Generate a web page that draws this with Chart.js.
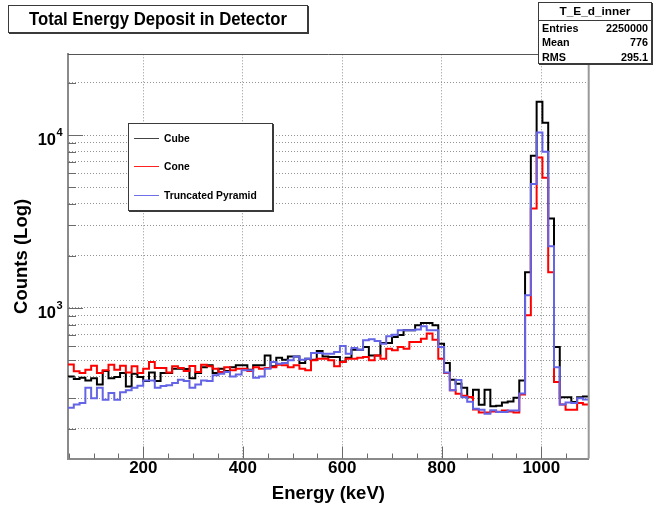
<!DOCTYPE html>
<html>
<head>
<meta charset="utf-8">
<script src="https://cdn.jsdelivr.net/npm/chart.js@4/dist/chart.umd.min.js"></script>
<style>
html,body{margin:0;padding:0;background:#fff;}
#wrap{position:relative;width:654px;height:508px;overflow:hidden;font-family:"Liberation Sans",Arial,Helvetica,sans-serif;font-weight:bold;color:#000;}
#c{position:absolute;left:0;top:0;}
.pave{position:absolute;background:#fff;border:1px solid #3a3a3a;box-shadow:1px 1px 0 #3a3a3a;box-sizing:border-box;}
#title{left:8px;top:5px;width:300px;height:28px;}
#title span{position:absolute;left:0;right:0;top:2px;text-align:center;font-size:19px;line-height:22px;white-space:nowrap;transform:scaleX(0.88);transform-origin:50% 50%;}
#stats{left:538px;top:2px;width:114px;height:62px;font-size:10.8px;}
#stats .hd{height:17px;line-height:17px;text-align:center;font-size:11.8px;border-bottom:1px solid #3a3a3a;}
#stats .row{display:flex;justify-content:space-between;padding:0 3px 0 3px;height:14.3px;line-height:14.3px;}
#legend{left:128px;top:123px;width:145px;height:88px;}
.lg{position:absolute;left:0;width:145px;height:16px;}
.lg b{position:absolute;left:5px;top:7px;width:25px;height:0;display:block;border-top-width:1.5px;border-top-style:solid;}
.lg span{position:absolute;left:35px;top:0;line-height:16px;font-size:10.3px;white-space:nowrap;}
</style>
</head>
<body>
<div id="wrap">
  <canvas id="c" width="654" height="508"></canvas>
  <div class="pave" id="title"><span id="titleText"></span></div>
  <div class="pave" id="stats"></div>
  <div class="pave" id="legend"></div>
</div>
<script>
// ---------------- data ----------------
const chartTitle = 'Total Energy Deposit in Detector';
const xTitle = 'Energy (keV)';
const yTitle = 'Counts (Log)';
const seriesNames = ['Cube', 'Cone', 'Truncated Pyramid'];
const seriesColors = ['#000000', '#ff0000', '#6464e6'];

// histogram binning (90 bins)
const binLow = 48.6;
const binWidth = 11.63;

const cube = [402,388,395,381,393,361,432,392,399,421,352,417,399,378,424,378,421,421,446,446,
  444,393,421,455,466,421,446,432,455,466,466,440,466,466,532,460,516,502,525,525,
  480,509,502,564,525,521,521,491,516,574,574,595,532,532,627,627,680,698,743,743,
  794,819,819,794,622,480,385,365,346,305,337,276,337,270,272,284,288,303,381,1609,
  7592,15600,11790,3292,595,305,305,286,305,308];
const cone = [472,430,421,440,464,421,436,470,440,464,424,460,421,446,487,450,450,424,460,450,
  432,462,426,470,460,446,426,455,436,446,446,432,455,446,450,455,470,466,455,466,
  446,436,498,509,509,498,460,487,509,509,516,521,498,532,509,582,569,595,582,636,
  636,665,711,656,509,421,334,319,311,306,259,249,249,252,251,255,252,249,316,907,
  3762,7425,5660,1609,373,277,258,258,282,277];
const pyramid = [265,277,282,346,301,346,295,322,295,326,334,346,355,381,381,346,354,357,368,385,
  378,346,361,381,378,408,417,426,402,413,436,436,395,402,446,487,476,480,498,525,
  502,509,549,549,544,544,556,603,544,587,574,650,659,644,622,686,701,743,743,743,
  750,783,743,743,595,424,335,383,305,287,261,258,245,256,250,250,255,255,320,1185,
  5203,10360,8008,2277,455,277,284,282,301,296];
const seriesValues = [cube, cone, pyramid];

// axes
const xRange = [48.6, 1095.3];
const yRange = [134.8, 29300];
const xMajorTicks = [200, 400, 600, 800, 1000];
const xMinorStep = 50;
const yDecades = [100, 1000, 10000];
const yLabelledTicks = [1000, 10000];

// stats box
const statsName = 'T_E_d_inner';
const statsRows = [['Entries', '2250000'], ['Mean', '776'], ['RMS', '295.1']];

// ---------------- html paves ----------------
document.getElementById('titleText').textContent = chartTitle;
const stats = document.getElementById('stats');
stats.innerHTML = '<div class="hd">' + statsName + '</div>' +
  statsRows.map(r => '<div class="row"><span>' + r[0] + '</span><span>' + r[1] + '</span></div>').join('');
const legend = document.getElementById('legend');
const legendTops = [7, 35, 64];
const legendLineColors = ['#444444', '#ff2020', '#6f6fe8'];
seriesNames.forEach((n, i) => {
  const d = document.createElement('div');
  d.className = 'lg';
  d.style.top = legendTops[i] + 'px';
  const ln = document.createElement('b');
  ln.style.borderTopColor = legendLineColors[i];
  const tx = document.createElement('span');
  tx.textContent = n;
  d.appendChild(ln);
  d.appendChild(tx);
  legend.appendChild(d);
});

// ---------------- chart ----------------
const edges = [];
for (let i = 0; i <= cube.length; i++) edges.push(binLow + i * binWidth);
function histPoints(vals) {
  const pts = vals.map((v, i) => ({x: edges[i], y: v}));
  pts.push({x: edges[vals.length], y: vals[vals.length - 1]});
  return pts;
}

const FONT = '"Liberation Sans", Arial, Helvetica, sans-serif';

const rootFrame = {
  id: 'rootFrame',
  afterDraw(chart) {
    const {ctx, chartArea: a, scales: {x, y}} = chart;
    ctx.save();
    ctx.strokeStyle = '#6a6a6a';
    ctx.lineWidth = 1;
    ctx.beginPath();
    x.ticks.forEach(t => {
      const px = Math.round(x.getPixelForValue(t.value)) + 0.5;
      const len = xMajorTicks.includes(t.value) ? 12 : 5;
      ctx.moveTo(px, a.bottom);
      ctx.lineTo(px, a.bottom - len);
    });
    y.ticks.forEach(t => {
      const py = Math.round(y.getPixelForValue(t.value)) + 0.5;
      const len = yLabelledTicks.includes(t.value) ? 15 : 8;
      ctx.moveTo(a.left, py);
      ctx.lineTo(a.left + len, py);
    });
    ctx.stroke();
    // top and right of frame
    ctx.beginPath();
    ctx.strokeStyle = '#555';
    ctx.lineWidth = 1;
    ctx.moveTo(a.left, Math.round(a.top) + 0.5);
    ctx.lineTo(a.right, Math.round(a.top) + 0.5);
    ctx.stroke();
    ctx.beginPath();
    ctx.strokeStyle = '#999';
    ctx.lineWidth = 2;
    ctx.moveTo(a.right, a.top);
    ctx.lineTo(a.right, a.bottom);
    ctx.stroke();
    // y labels 10^n
    ctx.fillStyle = '#000';
    yLabelledTicks.forEach(v => {
      const py = y.getPixelForValue(v);
      const e = String(Math.round(Math.log10(v)));
      ctx.font = 'bold 16.5px ' + FONT;
      ctx.textAlign = 'right';
      ctx.textBaseline = 'middle';
      ctx.fillText('10', 56, py + 5.5);
      ctx.font = 'bold 11px ' + FONT;
      ctx.textAlign = 'left';
      ctx.fillText(e, 56.5, py - 2);
    });
    ctx.restore();
  }
};

new Chart(document.getElementById('c'), {
  type: 'line',
  data: {
    datasets: seriesNames.map((n, i) => ({
      label: n,
      data: histPoints(seriesValues[i]),
      borderColor: seriesColors[i],
      backgroundColor: seriesColors[i],
      borderWidth: 2,
      pointRadius: 0,
      pointHoverRadius: 0,
      stepped: true,
      fill: false,
      tension: 0,
      order: seriesNames.length - i
    }))
  },
  options: {
    responsive: false,
    animation: false,
    devicePixelRatio: 1,
    layout: {padding: {top: 54.3, right: 65.3, left: 0, bottom: 0}},
    plugins: {legend: {display: false}, tooltip: {enabled: false}, title: {display: false}},
    scales: {
      x: {
        type: 'linear',
        min: xRange[0],
        max: xRange[1],
        afterFit: s => { s.height = 49.5; },
        afterBuildTicks: s => {
          const t = [];
          for (let v = Math.ceil(xRange[0] / xMinorStep) * xMinorStep; v <= xRange[1]; v += xMinorStep) t.push({value: v});
          s.ticks = t;
        },
        ticks: {
          autoSkip: false, maxRotation: 0, padding: 0, color: '#000',
          font: {family: FONT, size: 17, weight: 'bold'},
          callback: v => xMajorTicks.includes(v) ? String(v) : ''
        },
        grid: {
          drawTicks: false,
          color: c => (c.tick && xMajorTicks.includes(c.tick.value)) ? '#939393' : 'rgba(0,0,0,0)',
          lineWidth: 1
        },
        border: {display: true, color: '#8a8a8a', width: 2, dash: [1, 2]},
        title: {display: true, text: xTitle, color: '#000', font: {family: FONT, size: 18.5, weight: 'bold'}, padding: {top: 0, bottom: 3}}
      },
      y: {
        type: 'logarithmic',
        min: yRange[0],
        max: yRange[1],
        afterFit: s => { s.width = 68; },
        afterBuildTicks: s => {
          const t = [];
          yDecades.forEach(d => { for (let k = 1; k <= 9; k++) { const v = k * d; if (v >= yRange[0] && v <= yRange[1]) t.push({value: v}); } });
          s.ticks = t;
        },
        ticks: {display: true, autoSkip: false, callback: () => '', padding: 0},
        grid: {drawTicks: false, color: '#939393', lineWidth: 1},
        border: {display: true, color: '#8a8a8a', width: 2, dash: [1, 2]},
        title: {display: true, text: yTitle, color: '#000', font: {family: FONT, size: 18.5, weight: 'bold'}, padding: {top: 11, bottom: 0}}
      }
    }
  },
  plugins: [rootFrame]
});
</script>
</body>
</html>
